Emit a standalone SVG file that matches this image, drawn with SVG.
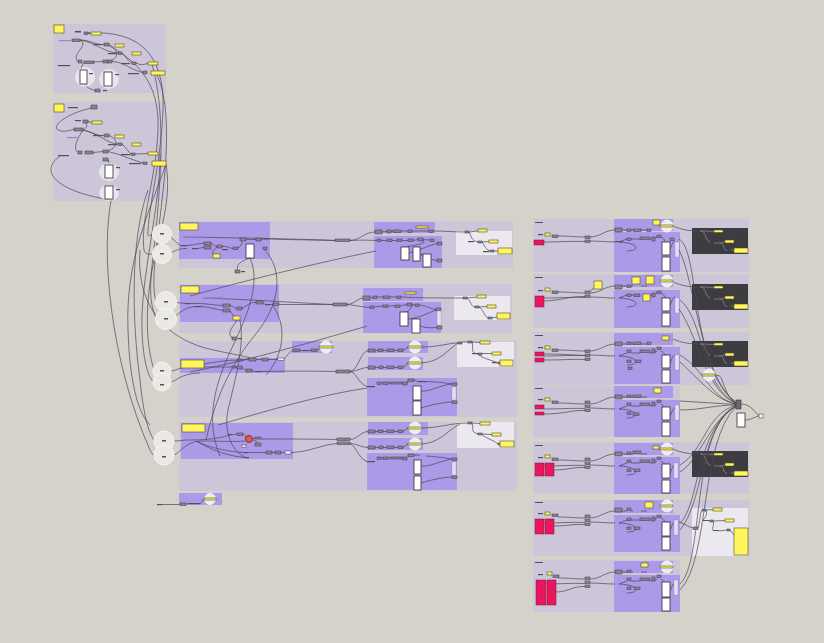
<svg xmlns="http://www.w3.org/2000/svg" width="824" height="643" viewBox="0 0 824 643">
<defs>
<style>
.og{fill:#cdc6d9}
.pg{fill:#ac99e7}
.wg{fill:#ebe8ef}
.dg{fill:#3d3c41}
.n{fill:#8a8395;stroke:#3a3540;stroke-width:.5}
.nw{fill:#f4f2f6;stroke:#3a3540;stroke-width:.5}
.l{fill:#544e60}
.lp{fill:#9484d2}
.y{fill:#fff55c;stroke:#514e2c;stroke-width:.6}
.w{fill:#fff;stroke:#2e2b33;stroke-width:.8}
.pk{fill:#e9175e;stroke:#7a1a3d;stroke-width:.5}
.c{fill:#ebe9e4;stroke:#f6f5f2;stroke-width:1}
.cw{fill:#efecf2;stroke:#f8f7fa;stroke-width:.8}
.st{fill:#e3def2;stroke:#8a8395;stroke-width:.3}
.gl{fill:#fff;opacity:.55}
.wr{fill:none;stroke:#4b4655;stroke-width:.7}
.wl{fill:none;stroke:#a5a2aa;stroke-width:.6}
.red{fill:#e0584e;stroke:#9a2a25;stroke-width:1}
</style>
<g id="rwires">
<path class="wr" d="M544,23 C560,23 570,22 585,22.5 M558,17 C570,17 575,18 585,18 M590,18 C600,18 605,11 615,11 M590,22 C600,22 605,23 615,23 M622,11 L627,11 M631,11 L633,11 M641,11 L647,11 M619,23 L627,20 M631,20 L640,20 M650,20 L652,20 M655,19 L657,18 M661,18 C668,22 664,26 666,30 M670,30 C672,26 673,22 675,22 M619,23 C640,24 640,32 627,32"/>
</g>
</defs>
<rect x="0" y="0" width="824" height="643" fill="#d5d2cc"/>

<g id="groups">
<rect class="og" x="53" y="24" width="113" height="69"/>
<rect class="og" x="53" y="102" width="113" height="99"/>
<rect class="og" x="179" y="221" width="334" height="47"/>
<rect class="pg" x="179" y="222" width="91" height="37"/>
<rect class="pg" x="374" y="222" width="61" height="11"/>
<rect class="pg" x="374" y="236" width="68" height="32"/>
<rect class="wg" x="456" y="231" width="56" height="24"/>
<rect class="og" x="179" y="284" width="333" height="49"/>
<rect class="pg" x="180" y="285" width="99" height="37"/>
<rect class="pg" x="363" y="288" width="60" height="13"/>
<rect class="pg" x="363" y="302" width="78" height="31"/>
<rect class="wg" x="454" y="296" width="56" height="24"/>
<rect class="og" x="179" y="341" width="338" height="76"/>
<rect class="pg" x="180" y="358" width="105" height="15"/>
<rect class="pg" x="292" y="341" width="40" height="12"/>
<rect class="pg" x="368" y="341" width="60" height="12"/>
<rect class="pg" x="368" y="357" width="55" height="13"/>
<rect class="pg" x="367" y="378" width="90" height="38"/>
<rect class="wg" x="457" y="342" width="57" height="25"/>
<rect class="og" x="179" y="422" width="338" height="69"/>
<rect class="pg" x="181" y="423" width="112" height="36"/>
<rect class="pg" x="368" y="422" width="60" height="13"/>
<rect class="pg" x="368" y="438" width="55" height="12"/>
<rect class="pg" x="367" y="453" width="90" height="37"/>
<rect class="wg" x="457" y="422" width="57" height="26"/>
<rect class="pg" x="179" y="493" width="43" height="12"/>
<rect class="og" x="533" y="219" width="216" height="53"/>
<rect class="pg" x="614" y="219" width="59" height="12"/>
<rect class="pg" x="614" y="232" width="66" height="40"/>
<rect class="dg" x="692" y="228" width="56" height="26"/>
<rect class="og" x="533" y="274" width="216" height="54"/>
<rect class="pg" x="614" y="275" width="59" height="12"/>
<rect class="pg" x="614" y="290" width="66" height="38"/>
<rect class="dg" x="692" y="284" width="56" height="26"/>
<rect class="og" x="533" y="332" width="216" height="53"/>
<rect class="pg" x="614" y="333" width="59" height="12"/>
<rect class="pg" x="614" y="347" width="66" height="37"/>
<rect class="dg" x="692" y="341" width="56" height="26"/>
<rect class="og" x="533" y="386" width="147" height="51"/>
<rect class="pg" x="614" y="386" width="59" height="12"/>
<rect class="pg" x="614" y="400" width="66" height="37"/>
<rect class="og" x="533" y="442" width="216" height="52"/>
<rect class="pg" x="614" y="443" width="59" height="12"/>
<rect class="pg" x="614" y="457" width="66" height="37"/>
<rect class="dg" x="692" y="451" width="56" height="26"/>
<rect class="og" x="533" y="500" width="216" height="56"/>
<rect class="pg" x="614" y="500" width="59" height="13"/>
<rect class="pg" x="614" y="515" width="66" height="37"/>
<rect class="wg" x="692" y="508" width="56" height="48"/>
<rect class="og" x="533" y="560" width="147" height="52"/>
<rect class="pg" x="614" y="561" width="59" height="12"/>
<rect class="pg" x="614" y="575" width="66" height="37"/>
</g>

<g id="connectors">
<path class="wr" d="M80,40 C90,40 95,45 104,44.5 M80,40 C95,42 105,53 118,53 M80,40 C90,45 70,55 78,61.5 M88,33 L91,33.5 M109,44.5 C120,50 120,62 103,61.5 M122,53 C126,56 128,62 132,63 M94,62 L103,61.5 M112,61.5 C125,62 130,70 143,72.5 M84,62 C78,72 78,86 95,90.5 M136,63 C142,66 144,64 148,63.5 M119,45.5 L115,45.5"/>
<path class="wr" d="M97,107 C75,110 50,124 58,130 C64,133 70,130 74,129.5 M83,130 C88,128 88,123 83,121.5 M88,121.5 L92,122.5 M83,130 C92,132 96,136 104,135.5 M83,130 C100,134 108,144 118,144 M83,130 C78,138 72,148 78,152.5 M109,135.5 C120,140 118,150 103,151.5 M122,144 C126,147 128,152 131,154 M93,152.5 L103,151.5 M108,151.5 C120,154 132,160 143,163 M135,154 L148,153.5 M108,159.5 C110,163 108,170 109,172"/>
<path class="wr" d="M88,33 C140,30 165,55 163,110 C161,160 150,200 148,230 C147,240 150,234 154,234"/>
<path class="wr" d="M106,44 C135,60 160,80 158,130 C156,180 140,220 144,250 C146,256 150,254 153,254"/>
<path class="wr" d="M156,73 C170,100 168,150 162,200 C158,240 150,280 156,302"/>
<path class="wr" d="M152,64 C165,110 162,170 155,240 C150,280 148,300 156,318"/>
<path class="wr" d="M166,164 C172,200 160,230 152,270 C145,310 146,345 154,370"/>
<path class="wr" d="M160,154 C160,210 140,280 142,330 C143,360 148,378 154,382"/>
<path class="wr" d="M148,190 C130,240 132,320 140,380 C144,420 150,436 155,441"/>
<path class="wr" d="M112,196 C100,250 110,360 150,450 C152,455 154,455 155,455"/>
<path class="wr" d="M60,156 C40,170 52,190 110,200"/>
<path class="wr" d="M140,250 C136,300 160,335 205,348 C230,354 245,356 250,358"/>
<path class="wr" d="M166,164 C150,210 125,260 128,330 C130,390 140,415 150,425"/>
<path class="wr" d="M166,234 C172,236 176,244 181,245.5 M166,254 C175,252 178,248 187,248.5 M187,245.5 C195,245 198,243 204,243.5 M198,248.5 C200,248 201,247.5 204,247.5 M211,243.5 C214,244 214,246 217,246.5 M222,246.5 C228,246 228,248 233,248.5 M217,247 C212,250 212,253 214,255 M238,248 C243,245 243,240 240,239.5 M183,237 C250,238 300,239 335,240.5 M246,239.5 L256,239.5 M261,239.5 L263,239 M269,239 C300,240 320,240 335,240.5 M350,240.5 C360,240 365,232 375,232 M350,240.5 C360,240 365,240 377,240.5 M382,232 L387,231.5 M391,231.5 L393,231 M401,231 L408,231 M412,231 L429,231 M433,231 C445,231 455,232 465,232 M381,240.5 L387,240.5 M392,240.5 L397,240.5 M402,240.5 L408,240.5 M413,240.5 L418,239.5 M423,239.5 L430,240 M423,239.5 C428,246 410,244 405,248 M409,253 C420,250 430,245 437,243.5 M421,254 C428,256 430,260 437,260.5 M417,250 C420,255 425,258 427,258 M469,232 C472,236 470,240 478,242 M482,242 C485,246 486,250 490,251 M469,232 L478,231 M482,242 L489,241.5 M494,251 L498,251"/>
<path class="wr" d="M263,248 C285,270 280,305 255,335 C230,365 215,400 206,440 M250,258 C262,285 245,320 230,352 C215,385 205,420 220,456 M238,272 C236,266 238,262 250,258"/>
<path class="wr" d="M190,296 C240,282 320,262 376,251"/>
<path class="wr" d="M170,302 C175,302 180,303 185,303.5 M170,319 C178,317 180,308 195,306.5 M191,303.5 C205,303 212,305 223,305.5 M201,306.5 C210,307 214,309 223,310.5 M230,305.5 C233,306 234,308 237,308.5 M230,310.5 C232,314 233,316 235,316 M242,308.5 C248,305 250,302 256,302.5 M203,298 C260,300 300,303 333,304.5 M263,302.5 L265,304.5 M270,304.5 L273,304.5 M279,304.5 C300,304.5 315,304.5 333,304.5 M347,304.5 C355,304 358,298 363,298 M347,304.5 C355,305 360,307 370,307.5 M370,298 L373,297 M377,297 L383,297 M390,297 L397,297 M401,297 C420,298 440,298 463,298 M374,307 L383,306 M388,306 L395,306 M400,306 L407,304.5 M412,304.5 L415,305 M419,305 C428,306 430,309 436,309.5 M412,305 C410,312 406,312 404,313 M408,319 C420,318 430,312 436,310 M420,326 C425,328 430,328 437,327.5 M467,298 C472,302 470,306 475,307 M479,307 C484,310 484,316 488,318 M467,298 L477,297 M479,307 L487,306.5 M492,318 L497,317 M237,320 C234,326 226,332 232,338"/>
<path class="wr" d="M240,320 C245,345 235,380 228,410 C224,430 230,450 245,457 M273,306 C290,330 280,360 266,375 M190,372 C250,360 320,340 367,326"/>
<path class="wr" d="M171,371 C176,371 178,368 182,368 M171,382 C178,380 180,374 200,373 M204,364 C215,362 228,360 238,360 M242,360 L249,359.5 M256,359.5 L262,359.5 M268,359.5 L278,359.5 M204,367 C215,367 225,367 232,367 M236,367 L237,367.5 M242,367.5 C244,369 245,370 246,370.5 M252,370.5 L255,371.5 M284,359 C288,355 290,351 293,350.5 M300,350.5 L303,350.5 M309,350.5 L311,350.5 M317,350.5 L320,348 M261,371.5 C290,371 315,371 336,371.5 M350,371.5 C358,371 360,352 368,350.5 M350,371.5 C358,371 360,368 368,367.5 M350,371.5 C356,372 358,383 367,386.5 M375,350.5 L378,350.5 M383,350.5 L387,350.5 M394,350.5 L398,350.5 M403,350.5 L408,347 M375,367.5 L379,367.5 M383,367.5 L387,367.5 M394,367.5 L398,367.5 M403,367.5 L408,363 M421,347 C440,347 448,343 458,343 M421,363 C440,362 445,352 458,343 M381,383 L383,383 M388,383 L390,383 M402,383 L403,383.5 M407,383.5 C408,381 408,380 408,380 M414,380 L418,381.5 M426,381.5 C440,382 445,383 452,384 M421,391 C430,392 440,385 452,384 M421,408 C430,405 445,402 452,402 M462,342 L468,342 M472,342 L480,342.5 M472,342 C474,348 470,352 476,353.5 M482,353.5 L492,353.5 M478,353.5 C480,358 492,360 498,363 M502,363 L500,362"/>
<path class="wr" d="M218,425 C270,410 320,395 367,388"/>
<path class="wr" d="M174,441 C180,441 183,440 188,440 M174,455 C180,453 185,442 200,441 M188,440 C210,440 220,438 230,435 M232,435 L237,434 M243,434 C247,436 246,438 246,439 M252,439 L255,438 M200,441 C215,441 235,442 245,441 M253,440 C258,441 258,443 255,444.5 M246,446 C243,446 243,446 242,446 M196,441 C210,448 230,452 244,452.5 M198,442 C215,452 230,456 245,457.5 M248,452.5 L266,452.5 M272,452.5 L275,452.5 M281,452.5 L285,452.5 M291,452.5 C310,452 320,445 337,443.5 M261,439 C290,439 315,439 337,439.5 M350,439.5 C358,439 360,432 368,431.5 M350,443.5 C358,444 360,447 368,447.5 M350,443.5 C356,446 358,458 367,461.5 M375,431.5 L378,431.5 M383,431.5 L387,431.5 M394,431.5 L398,431.5 M403,431.5 L408,428 M375,447.5 L379,447.5 M383,447.5 L387,447.5 M394,447.5 L398,447.5 M403,447.5 L408,444 M421,428 C440,428 450,423 468,423 M421,444 C440,443 445,432 460,424 M381,458 L383,458 M388,458 L390,458 M402,458 L403,458.5 M414,455 L420,455 M426,456 C440,457 445,458 452,459 M421,466 C430,467 440,461 452,459 M421,483 C430,480 445,477 452,477 M472,423 L480,423.5 M472,423 C474,428 470,432 478,434 M482,434 L492,434.5 M482,434 C484,438 494,440 498,444"/>
<path class="wr" d="M162,504.5 L180,504.5 M186,504 L188,504 M200,504 L204,499"/>
<use href="#rwires" transform="translate(0,219)"/>
<use href="#rwires" transform="translate(0,275)"/>
<use href="#rwires" transform="translate(0,333)"/>
<use href="#rwires" transform="translate(0,386)"/>
<use href="#rwires" transform="translate(0,443)"/>
<use href="#rwires" transform="translate(0,500)"/>
<use href="#rwires" transform="translate(0,561)"/>
<path class="wr" d="M544,301 C565,300 570,296 585,296.5 M544,354 C565,354 570,355 585,355.5 M544,360 C565,360 570,359 585,359.5 M544,414 C565,414 570,410 585,410.5 M554,470 C568,470 572,467 585,467.5 M554,526 C568,526 572,524 585,524.5 M556,592 C568,592 572,586 585,586.5 M590,291 C595,288 596,286 598,285"/>
<path class="wr" d="M673,226 C682,230 690,231 700,231 M673,282 C682,286 690,287 700,287 M673,339 C682,343 690,344 700,344 M673,449 C682,453 690,454 700,454 M679,522 C685,524 688,527 693,528 M698,528 C700,522 700,512 702,510"/>
<path class="wl" d="M703,231 C706,236 706,240 710,242.5 M714,243 L719,243 M722,243 C724,247 724,250 727,250.5 M703,231 L714,231.5 M722,243 L725,241.5 M731,250 L734,250"/>
<path class="wl" d="M703,287 C706,292 706,296 710,298.5 M714,299 L719,299 M722,299 C724,303 724,306 727,306.5 M703,287 L714,287.5 M722,299 L725,297.5 M731,306 L734,306"/>
<path class="wl" d="M703,344 C706,349 706,353 710,355.5 M714,356 L719,356 M722,356 C724,360 724,363 727,363.5 M703,344 L714,344.5 M722,356 L725,354.5 M731,363 L734,363"/>
<path class="wl" d="M703,454 C706,459 706,463 710,465.5 M714,466 L719,466 M722,466 C724,470 724,473 727,473.5 M703,454 L714,454.5 M722,466 L725,464.5 M731,473 L734,473"/>
<path class="wr" d="M706,510 L713,509.5 M706,510 C708,516 704,518 703,520.5 M709,521 L710,521 M713,521 L725,520.5 M713,521 C715,526 711,528 713,530.5 M719,531 L727,530 M730,530 L734,535"/>
<path class="wr" d="M679,239 C700,250 690,370 736,402 M679,250 C695,280 700,375 736,403 M680,300 C705,320 700,385 736,403 M679,309 C700,340 705,390 736,403.5 M680,355 C705,370 710,398 736,404 M680,362 C700,380 715,400 736,404 M680,401 L736,404.5 M680,410 C700,410 715,405 736,405 M680,465 C705,450 705,415 736,405 M680,472 C700,460 710,420 736,405.5 M680,523 C700,505 695,430 736,406 M680,530 C705,500 700,425 736,406 M680,584 C705,560 690,430 736,406.5 M680,590 C710,560 700,440 736,407 M715,376 C725,372 720,390 736,404"/>
<path class="wr" d="M741,404 C752,404 755,414 760,416 M745,420 C752,420 755,416 760,416"/>
</g>

<g id="node-top1">
<rect class="y" x="54" y="25" width="10" height="8"/>
<rect class="l" x="75" y="31" width="6" height="1.5"/>
<rect class="n" x="84" y="32" width="4" height="2.5"/>
<rect class="y" x="91" y="32" width="10" height="3"/>
<rect class="lp" x="59" y="40" width="12" height="1.2"/>
<rect class="n" x="72" y="39" width="8" height="2.5"/>
<rect class="l" x="93" y="44" width="9" height="1.2"/>
<rect class="n" x="104" y="43" width="5" height="3"/>
<rect class="y" x="115" y="44" width="9" height="3"/>
<rect class="l" x="108" y="53" width="9" height="1.2"/>
<rect class="n" x="118" y="52" width="4" height="2.5"/>
<rect class="y" x="132" y="52" width="9" height="3"/>
<rect class="l" x="58" y="65" width="12" height="1.2"/>
<rect class="n" x="78" y="60" width="4" height="3"/>
<rect class="n" x="84" y="61" width="10" height="2.5"/>
<rect class="n" x="103" y="60" width="5" height="3"/>
<rect class="n" x="108" y="60" width="4" height="3"/>
<rect class="l" x="121" y="63" width="9" height="1.2"/>
<rect class="n" x="132" y="62" width="4" height="2.5"/>
<rect class="y" x="148" y="62" width="10" height="3"/>
<ellipse class="gl" cx="85" cy="77" rx="10" ry="10"/>
<ellipse class="gl" cx="109" cy="79" rx="10" ry="10"/>
<rect class="w" x="80" y="70" width="7" height="14"/>
<rect class="l" x="89" y="73" width="4" height="1.2"/>
<rect class="w" x="104" y="72" width="8" height="14"/>
<rect class="l" x="115" y="74" width="4" height="1.2"/>
<rect class="l" x="128" y="73" width="11" height="1.2"/>
<rect class="n" x="143" y="71" width="4" height="3"/>
<rect class="y" x="151" y="71" width="14" height="4"/>
<rect class="n" x="95" y="89" width="5" height="3"/>
<rect class="l" x="103" y="90" width="4" height="1.2"/>
</g>

<g id="node-top2">
<rect class="y" x="54" y="104" width="10" height="8"/>
<rect class="l" x="68" y="107" width="10" height="1.2"/>
<rect class="n" x="91" y="105" width="6" height="4"/>
<rect class="l" x="75" y="120" width="6" height="1.2"/>
<rect class="n" x="83" y="120" width="5" height="3"/>
<rect class="y" x="92" y="121" width="10" height="3"/>
<rect class="n" x="74" y="128" width="9" height="3"/>
<rect class="lp" x="67" y="137" width="12" height="1.2"/>
<rect class="l" x="93" y="135" width="9" height="1.2"/>
<rect class="n" x="104" y="134" width="5" height="3"/>
<rect class="y" x="115" y="135" width="9" height="3"/>
<rect class="l" x="108" y="144" width="9" height="1.2"/>
<rect class="n" x="118" y="143" width="4" height="2.5"/>
<rect class="y" x="132" y="143" width="9" height="3"/>
<rect class="l" x="58" y="155" width="11" height="1.2"/>
<rect class="n" x="78" y="151" width="4" height="3"/>
<rect class="n" x="85" y="151" width="8" height="3"/>
<rect class="n" x="103" y="150" width="5" height="3"/>
<rect class="n" x="103" y="158" width="5" height="3"/>
<rect class="l" x="121" y="154" width="9" height="1.2"/>
<rect class="n" x="131" y="153" width="4" height="2.5"/>
<rect class="y" x="148" y="152" width="10" height="3"/>
<rect class="l" x="129" y="163" width="12" height="1.2"/>
<rect class="n" x="143" y="162" width="4" height="2.5"/>
<rect class="y" x="152" y="161" width="14" height="5"/>
<ellipse class="gl" cx="109" cy="172" rx="10" ry="9"/>
<ellipse class="gl" cx="109" cy="193" rx="10" ry="8"/>
<rect class="w" x="105" y="165" width="8" height="13"/>
<rect class="l" x="116" y="167" width="4" height="1.2"/>
<rect class="w" x="105" y="186" width="8" height="13"/>
<rect class="l" x="116" y="189" width="4" height="1.2"/>
</g>

<g id="node-rowA">
<circle class="c" cx="162" cy="234" r="9.5"/>
<circle class="c" cx="162" cy="254" r="9.5"/>
<rect class="l" x="160" y="233" width="4" height="1.5"/>
<rect class="l" x="160" y="253" width="4" height="1.5"/>
<rect class="y" x="180" y="223" width="18" height="7"/>
<rect class="lp" x="183" y="236" width="21" height="1.5"/>
<rect class="l" x="181" y="245" width="6" height="1.2"/>
<rect class="l" x="192" y="248" width="6" height="1.2"/>
<rect class="n" x="204" y="242" width="7" height="3"/>
<rect class="n" x="204" y="246" width="7" height="3"/>
<rect class="n" x="217" y="245" width="5" height="3"/>
<rect class="l" x="222" y="249" width="6" height="1.2"/>
<rect class="y" x="213" y="254" width="7" height="4"/>
<rect class="n" x="240" y="238" width="6" height="3"/>
<rect class="n" x="256" y="238" width="5" height="3"/>
<rect class="l" x="263" y="238" width="6" height="1.5"/>
<rect class="n" x="233" y="247" width="5" height="2.5"/>
<rect class="w" x="246" y="244" width="8" height="14"/>
<rect class="n" x="263" y="247" width="4" height="2.5"/>
<rect class="n" x="235" y="270" width="5" height="3"/>
<rect class="l" x="241" y="271" width="4" height="1.2"/>
<rect class="n" x="335" y="239" width="15" height="2.5"/>
<rect class="n" x="375" y="230" width="7" height="4"/>
<rect class="n" x="387" y="230" width="4" height="3"/>
<rect class="n" x="393" y="230" width="8" height="2.5"/>
<rect class="n" x="408" y="230" width="4" height="2.5"/>
<rect class="y" x="416" y="226" width="12" height="2"/>
<rect class="n" x="429" y="230" width="4" height="2.5"/>
<rect class="n" x="377" y="239" width="4" height="2.5"/>
<rect class="n" x="387" y="239" width="5" height="2.5"/>
<rect class="n" x="397" y="239" width="5" height="2.5"/>
<rect class="n" x="408" y="239" width="5" height="2.5"/>
<rect class="n" x="418" y="238" width="5" height="3"/>
<rect class="n" x="430" y="239" width="4" height="2.5"/>
<rect class="w" x="401" y="247" width="8" height="13"/>
<rect class="w" x="413" y="247" width="7" height="14"/>
<rect class="w" x="423" y="254" width="8" height="13"/>
<rect class="n" x="437" y="242" width="5" height="3"/>
<rect class="n" x="437" y="259" width="5" height="3"/>
<rect class="n" x="465" y="231" width="4" height="2"/>
<rect class="y" x="478" y="229" width="9" height="3"/>
<rect class="l" x="468" y="241" width="6" height="1.2"/>
<rect class="n" x="478" y="241" width="4" height="2"/>
<rect class="y" x="489" y="240" width="9" height="3"/>
<rect class="l" x="483" y="251" width="6" height="1.2"/>
<rect class="n" x="490" y="250" width="4" height="2"/>
<rect class="y" x="498" y="248" width="14" height="6"/>
</g>

<g id="node-rowB">
<circle class="c" cx="166" cy="302" r="10.5"/>
<circle class="c" cx="166" cy="319" r="10.5"/>
<rect class="l" x="164" y="301" width="4" height="1.5"/>
<rect class="l" x="164" y="318" width="4" height="1.5"/>
<rect class="y" x="181" y="286" width="18" height="7"/>
<rect class="lp" x="203" y="297" width="20" height="1.5"/>
<rect class="l" x="185" y="303" width="6" height="1.2"/>
<rect class="l" x="195" y="306" width="6" height="1.2"/>
<rect class="n" x="223" y="304" width="7" height="3"/>
<rect class="n" x="223" y="309" width="7" height="3"/>
<rect class="n" x="237" y="307" width="5" height="3"/>
<rect class="y" x="233" y="316" width="7" height="4"/>
<rect class="n" x="256" y="301" width="7" height="3"/>
<rect class="l" x="265" y="304" width="5" height="1.2"/>
<rect class="n" x="273" y="303" width="6" height="2.5"/>
<rect class="n" x="232" y="337" width="5" height="3"/>
<rect class="l" x="238" y="338" width="4" height="1.2"/>
<rect class="n" x="333" y="303" width="14" height="3"/>
<rect class="n" x="363" y="296" width="7" height="4"/>
<rect class="n" x="373" y="296" width="4" height="2.5"/>
<rect class="n" x="383" y="296" width="7" height="2.5"/>
<rect class="n" x="397" y="296" width="4" height="2.5"/>
<rect class="y" x="405" y="292" width="11" height="2"/>
<rect class="n" x="370" y="306" width="4" height="2.5"/>
<rect class="n" x="383" y="305" width="5" height="2.5"/>
<rect class="n" x="395" y="305" width="5" height="2.5"/>
<rect class="n" x="407" y="303" width="5" height="3"/>
<rect class="n" x="415" y="304" width="4" height="2.5"/>
<rect class="n" x="436" y="308" width="5" height="3"/>
<rect class="w" x="400" y="312" width="8" height="14"/>
<rect class="w" x="412" y="319" width="8" height="14"/>
<rect class="st" x="437" y="311" width="4" height="14"/>
<rect class="n" x="437" y="326" width="5" height="3"/>
<rect class="n" x="463" y="297" width="4" height="2"/>
<rect class="y" x="477" y="295" width="9" height="3"/>
<rect class="n" x="475" y="306" width="4" height="2"/>
<rect class="y" x="487" y="305" width="9" height="3"/>
<rect class="n" x="488" y="317" width="4" height="2"/>
<rect class="y" x="497" y="313" width="13" height="6"/>
</g>

<g id="node-rowC">
<circle class="c" cx="162" cy="371" r="9"/>
<circle class="c" cx="162" cy="382" r="9"/>
<rect class="l" x="160" y="370" width="4" height="1.5"/>
<rect class="l" x="160" y="384" width="4" height="1.5"/>
<rect class="y" x="181" y="360" width="23" height="8"/>
<rect class="n" x="238" y="359" width="4" height="2"/>
<rect class="n" x="249" y="358" width="7" height="3"/>
<rect class="n" x="262" y="358" width="6" height="3"/>
<rect class="nw" x="278" y="358" width="6" height="2.5"/>
<rect class="n" x="232" y="366" width="4" height="2"/>
<rect class="n" x="237" y="366" width="5" height="3"/>
<rect class="n" x="246" y="369" width="6" height="3"/>
<rect class="l" x="255" y="371" width="6" height="1.2"/>
<rect class="n" x="293" y="349" width="7" height="2.5"/>
<rect class="l" x="303" y="350" width="6" height="1.2"/>
<rect class="n" x="311" y="349" width="6" height="2.5"/>
<circle class="cw" cx="326" cy="347" r="6"/>
<rect class="y" x="319" y="346" width="14" height="2"/>
<rect class="n" x="336" y="370" width="14" height="3"/>
<circle class="cw" cx="415" cy="347" r="6"/>
<rect class="y" x="408" y="346" width="14" height="2"/>
<rect class="n" x="368" y="349" width="7" height="3"/>
<rect class="n" x="378" y="349" width="5" height="2.5"/>
<rect class="n" x="387" y="349" width="7" height="2.5"/>
<rect class="n" x="398" y="349" width="5" height="2.5"/>
<circle class="cw" cx="415" cy="363" r="6"/>
<rect class="y" x="408" y="362" width="14" height="2"/>
<rect class="n" x="368" y="366" width="7" height="3"/>
<rect class="n" x="379" y="366" width="4" height="2.5"/>
<rect class="n" x="387" y="366" width="7" height="2.5"/>
<rect class="n" x="398" y="366" width="5" height="2.5"/>
<rect class="l" x="367" y="386" width="8" height="1.2"/>
<rect class="n" x="377" y="382" width="4" height="2.5"/>
<rect class="n" x="383" y="382" width="5" height="2.5"/>
<rect class="n" x="390" y="382" width="12" height="2"/>
<rect class="n" x="403" y="382" width="4" height="3"/>
<rect class="n" x="408" y="379" width="6" height="2.5"/>
<rect class="l" x="418" y="381" width="8" height="1.2"/>
<rect class="w" x="413" y="386" width="8" height="14"/>
<rect class="w" x="413" y="401" width="8" height="14"/>
<rect class="n" x="452" y="383" width="5" height="2.5"/>
<rect class="st" x="452" y="387" width="4" height="13"/>
<rect class="n" x="452" y="401" width="5" height="2.5"/>
<rect class="n" x="458" y="342" width="4" height="2"/>
<rect class="n" x="468" y="341" width="4" height="2"/>
<rect class="y" x="480" y="341" width="10" height="3"/>
<rect class="l" x="472" y="353" width="6" height="1.2"/>
<rect class="n" x="478" y="353" width="4" height="2"/>
<rect class="y" x="492" y="352" width="9" height="3"/>
<rect class="l" x="492" y="362" width="5" height="1.2"/>
<rect class="n" x="498" y="362" width="4" height="2"/>
<rect class="y" x="500" y="360" width="13" height="6"/>
</g>

<g id="node-rowD">
<circle class="c" cx="164" cy="441" r="10"/>
<circle class="c" cx="164" cy="455" r="10"/>
<rect class="l" x="162" y="440" width="4" height="1.5"/>
<rect class="l" x="162" y="456" width="4" height="1.5"/>
<rect class="y" x="182" y="424" width="23" height="8"/>
<rect class="l" x="228" y="434" width="4" height="1.2"/>
<rect class="n" x="237" y="433" width="6" height="2.5"/>
<circle class="red" cx="249" cy="439" r="3.5"/>
<rect class="n" x="255" y="437" width="6" height="2"/>
<rect class="n" x="255" y="443" width="6" height="3"/>
<rect class="nw" x="242" y="445" width="4" height="2.5"/>
<rect class="l" x="244" y="452" width="4" height="1.2"/>
<rect class="l" x="245" y="457" width="4" height="1.2"/>
<rect class="n" x="266" y="451" width="6" height="3"/>
<rect class="n" x="275" y="451" width="6" height="3"/>
<rect class="nw" x="285" y="451" width="6" height="3"/>
<rect class="n" x="337" y="438" width="13" height="2.5"/>
<rect class="n" x="337" y="442" width="13" height="2.5"/>
<circle class="cw" cx="415" cy="428" r="6"/>
<rect class="y" x="408" y="427" width="14" height="2"/>
<rect class="n" x="368" y="430" width="7" height="3"/>
<rect class="n" x="378" y="430" width="5" height="2.5"/>
<rect class="n" x="387" y="430" width="7" height="2.5"/>
<rect class="n" x="398" y="430" width="5" height="2.5"/>
<circle class="cw" cx="415" cy="444" r="6"/>
<rect class="y" x="408" y="443" width="14" height="2"/>
<rect class="n" x="368" y="446" width="7" height="3"/>
<rect class="n" x="379" y="446" width="4" height="2.5"/>
<rect class="n" x="387" y="446" width="7" height="2.5"/>
<rect class="n" x="398" y="446" width="5" height="2.5"/>
<rect class="l" x="367" y="461" width="8" height="1.2"/>
<rect class="n" x="377" y="457" width="4" height="2.5"/>
<rect class="n" x="383" y="457" width="5" height="2.5"/>
<rect class="n" x="390" y="457" width="12" height="2"/>
<rect class="n" x="403" y="457" width="4" height="3"/>
<rect class="n" x="408" y="454" width="6" height="2.5"/>
<rect class="w" x="414" y="460" width="7" height="14"/>
<rect class="w" x="414" y="476" width="7" height="14"/>
<rect class="n" x="452" y="458" width="5" height="2.5"/>
<rect class="st" x="452" y="462" width="4" height="13"/>
<rect class="n" x="452" y="476" width="5" height="2.5"/>
<rect class="n" x="468" y="422" width="4" height="2"/>
<rect class="y" x="480" y="422" width="10" height="3"/>
<rect class="n" x="478" y="433" width="4" height="2"/>
<rect class="y" x="492" y="433" width="9" height="3"/>
<rect class="n" x="498" y="443" width="4" height="2"/>
<rect class="y" x="500" y="441" width="14" height="6"/>
</g>

<g id="node-small">
<rect class="l" x="157" y="504" width="5" height="1.2"/>
<rect class="n" x="180" y="503" width="6" height="2.5"/>
<rect class="l" x="188" y="503" width="12" height="1.2"/>
<circle class="cw" cx="210" cy="499" r="5.5"/>
<rect class="y" x="204" y="498" width="12" height="2"/>
</g>

<g id="node-R1">
<rect class="l" x="535" y="222" width="8" height="1"/>
<rect class="pk" x="534" y="240" width="10" height="5"/>
<rect class="l" x="538" y="234" width="5" height="1.2"/>
<rect class="y" x="545" y="233" width="5" height="3"/>
<rect class="n" x="552" y="235" width="6" height="2.5"/>
<rect class="n" x="585" y="236" width="5" height="2.5"/>
<rect class="n" x="585" y="240" width="5" height="2.5"/>
<rect class="y" x="653" y="220" width="7" height="5"/>
<circle class="cw" cx="667" cy="226" r="6"/>
<rect class="y" x="660" y="225" width="13" height="2"/>
<rect class="n" x="615" y="228" width="7" height="4"/>
<rect class="n" x="627" y="229" width="4" height="2.5"/>
<rect class="n" x="633" y="229" width="8" height="2.5"/>
<rect class="n" x="647" y="229" width="4" height="2.5"/>
<rect class="l" x="615" y="241" width="8" height="1.2"/>
<rect class="n" x="627" y="238" width="4" height="2.5"/>
<rect class="n" x="640" y="237" width="10" height="2.5"/>
<rect class="n" x="652" y="237" width="3" height="4"/>
<rect class="n" x="657" y="235" width="4" height="2.5"/>
<rect class="n" x="670" y="238" width="4" height="2.5"/>
<rect class="w" x="662" y="242" width="8" height="13"/>
<rect class="w" x="662" y="257" width="8" height="14"/>
<rect class="st" x="675" y="242" width="4" height="15"/>
<rect class="n" x="700" y="230" width="3" height="2"/>
<rect class="y" x="714" y="230" width="9" height="2.5"/>
<rect class="n" x="719" y="242" width="3" height="2"/>
<rect class="y" x="725" y="240" width="9" height="3"/>
<rect class="y" x="734" y="248" width="14" height="5"/>
</g>

<g id="node-R2">
<rect class="l" x="535" y="277" width="8" height="1"/>
<rect class="pk" x="535" y="296" width="9" height="11"/>
<rect class="l" x="538" y="290" width="5" height="1.2"/>
<rect class="y" x="545" y="288" width="5" height="3"/>
<rect class="n" x="552" y="291" width="6" height="2.5"/>
<rect class="n" x="585" y="291" width="5" height="2.5"/>
<rect class="n" x="585" y="295" width="5" height="2.5"/>
<rect class="y" x="594" y="281" width="8" height="8"/>
<rect class="y" x="632" y="277" width="8" height="7"/>
<rect class="y" x="646" y="276" width="8" height="8"/>
<circle class="cw" cx="667" cy="281" r="6"/>
<rect class="y" x="660" y="280" width="13" height="2"/>
<rect class="n" x="615" y="285" width="7" height="4"/>
<rect class="n" x="627" y="285" width="4" height="2.5"/>
<rect class="y" x="643" y="294" width="7" height="7"/>
<rect class="n" x="627" y="294" width="4" height="2.5"/>
<rect class="n" x="634" y="294" width="6" height="2.5"/>
<rect class="n" x="652" y="293" width="3" height="4"/>
<rect class="n" x="657" y="291" width="4" height="2.5"/>
<rect class="w" x="662" y="298" width="8" height="13"/>
<rect class="w" x="662" y="313" width="8" height="13"/>
<rect class="st" x="675" y="298" width="4" height="15"/>
<rect class="n" x="700" y="286" width="3" height="2"/>
<rect class="y" x="714" y="286" width="9" height="2.5"/>
<rect class="n" x="719" y="298" width="3" height="2"/>
<rect class="y" x="725" y="296" width="9" height="3"/>
<rect class="y" x="734" y="304" width="14" height="5"/>
</g>

<g id="node-R3">
<rect class="l" x="535" y="335" width="8" height="1"/>
<rect class="pk" x="535" y="352" width="9" height="4"/>
<rect class="pk" x="535" y="358" width="9" height="4"/>
<rect class="l" x="538" y="347" width="5" height="1.2"/>
<rect class="y" x="545" y="346" width="5" height="3"/>
<rect class="n" x="552" y="349" width="6" height="2.5"/>
<rect class="n" x="585" y="350" width="5" height="2.5"/>
<rect class="n" x="585" y="354" width="5" height="2.5"/>
<rect class="n" x="585" y="358" width="5" height="2.5"/>
<rect class="y" x="662" y="336" width="7" height="4"/>
<rect class="n" x="615" y="342" width="7" height="4"/>
<rect class="n" x="627" y="342" width="4" height="2.5"/>
<rect class="n" x="633" y="342" width="8" height="2.5"/>
<rect class="n" x="647" y="342" width="4" height="2.5"/>
<rect class="n" x="627" y="350" width="4" height="2.5"/>
<rect class="n" x="640" y="350" width="10" height="2.5"/>
<rect class="n" x="652" y="349" width="3" height="4"/>
<rect class="n" x="657" y="347" width="4" height="2.5"/>
<rect class="n" x="627" y="360" width="4" height="2.5"/>
<rect class="n" x="635" y="360" width="6" height="2.5"/>
<rect class="n" x="628" y="367" width="4" height="2.5"/>
<rect class="w" x="662" y="355" width="8" height="13"/>
<rect class="w" x="662" y="370" width="8" height="13"/>
<rect class="st" x="675" y="355" width="4" height="15"/>
<rect class="n" x="700" y="343" width="3" height="2"/>
<rect class="y" x="714" y="343" width="9" height="2.5"/>
<rect class="n" x="719" y="355" width="3" height="2"/>
<rect class="y" x="725" y="353" width="9" height="3"/>
<rect class="y" x="734" y="361" width="14" height="5"/>
<circle class="cw" cx="709" cy="375" r="6"/>
<rect class="y" x="702" y="374" width="13" height="2"/>
</g>

<g id="node-R4">
<rect class="l" x="535" y="388" width="8" height="1"/>
<rect class="pk" x="535" y="405" width="9" height="4"/>
<rect class="pk" x="535" y="412" width="9" height="3"/>
<rect class="l" x="538" y="399" width="5" height="1.2"/>
<rect class="y" x="545" y="398" width="5" height="3"/>
<rect class="n" x="552" y="401" width="6" height="2.5"/>
<rect class="n" x="585" y="401" width="5" height="2.5"/>
<rect class="n" x="585" y="405" width="5" height="2.5"/>
<rect class="n" x="585" y="409" width="5" height="2.5"/>
<rect class="y" x="654" y="388" width="7" height="5"/>
<rect class="n" x="615" y="395" width="7" height="4"/>
<rect class="n" x="627" y="395" width="4" height="2.5"/>
<rect class="n" x="633" y="395" width="8" height="2.5"/>
<rect class="n" x="627" y="403" width="4" height="2.5"/>
<rect class="n" x="640" y="403" width="10" height="2.5"/>
<rect class="n" x="652" y="402" width="3" height="4"/>
<rect class="n" x="657" y="400" width="4" height="2.5"/>
<rect class="n" x="627" y="412" width="4" height="2.5"/>
<rect class="n" x="633" y="413" width="6" height="2.5"/>
<rect class="w" x="662" y="407" width="8" height="13"/>
<rect class="w" x="662" y="422" width="8" height="14"/>
<rect class="st" x="675" y="405" width="4" height="15"/>
</g>

<g id="node-merge">
<rect x="736" y="400" width="5" height="9" fill="#6d6874" stroke="#3a3540" stroke-width=".6"/>
<rect class="w" x="737" y="413" width="8" height="14"/>
<rect class="nw" x="759" y="414" width="4" height="4"/>
</g>

<g id="node-R5">
<rect class="l" x="535" y="445" width="8" height="1"/>
<rect class="pk" x="535" y="463" width="9" height="13"/>
<rect class="pk" x="545" y="463" width="9" height="13"/>
<rect class="l" x="538" y="457" width="5" height="1.2"/>
<rect class="y" x="545" y="455" width="5" height="3"/>
<rect class="n" x="552" y="458" width="6" height="2.5"/>
<rect class="n" x="585" y="458" width="5" height="2.5"/>
<rect class="n" x="585" y="462" width="5" height="2.5"/>
<rect class="n" x="585" y="466" width="5" height="2.5"/>
<circle class="cw" cx="667" cy="449" r="6"/>
<rect class="y" x="660" y="448" width="13" height="2"/>
<rect class="y" x="653" y="446" width="6" height="3"/>
<rect class="n" x="615" y="452" width="7" height="4"/>
<rect class="n" x="627" y="452" width="4" height="2.5"/>
<rect class="n" x="633" y="451" width="8" height="2.5"/>
<rect class="n" x="627" y="460" width="4" height="2.5"/>
<rect class="n" x="640" y="460" width="10" height="2.5"/>
<rect class="n" x="652" y="459" width="3" height="4"/>
<rect class="n" x="657" y="457" width="4" height="2.5"/>
<rect class="n" x="627" y="469" width="4" height="2.5"/>
<rect class="n" x="634" y="469" width="6" height="2.5"/>
<rect class="w" x="662" y="464" width="8" height="14"/>
<rect class="w" x="662" y="480" width="8" height="13"/>
<rect class="st" x="674" y="463" width="4" height="15"/>
<rect class="n" x="700" y="453" width="3" height="2"/>
<rect class="y" x="714" y="453" width="9" height="2.5"/>
<rect class="n" x="719" y="465" width="3" height="2"/>
<rect class="y" x="725" y="463" width="9" height="3"/>
<rect class="y" x="734" y="471" width="14" height="5"/>
</g>

<g id="node-R6">
<rect class="l" x="535" y="502" width="8" height="1"/>
<rect class="pk" x="535" y="519" width="9" height="15"/>
<rect class="pk" x="545" y="519" width="9" height="15"/>
<rect class="l" x="538" y="513" width="5" height="1.2"/>
<rect class="y" x="545" y="512" width="5" height="3"/>
<rect class="n" x="552" y="514" width="6" height="2.5"/>
<rect class="n" x="585" y="515" width="5" height="2.5"/>
<rect class="n" x="585" y="519" width="5" height="2.5"/>
<rect class="n" x="585" y="523" width="5" height="2.5"/>
<rect class="y" x="645" y="502" width="8" height="6"/>
<circle class="cw" cx="667" cy="506" r="6"/>
<rect class="y" x="660" y="505" width="13" height="2"/>
<rect class="n" x="615" y="508" width="7" height="4"/>
<rect class="n" x="627" y="508" width="4" height="2.5"/>
<rect class="n" x="627" y="518" width="4" height="2.5"/>
<rect class="n" x="640" y="518" width="10" height="2.5"/>
<rect class="n" x="652" y="517" width="3" height="4"/>
<rect class="n" x="657" y="515" width="4" height="2.5"/>
<rect class="n" x="627" y="527" width="4" height="2.5"/>
<rect class="n" x="634" y="527" width="6" height="2.5"/>
<rect class="w" x="662" y="522" width="8" height="14"/>
<rect class="w" x="662" y="537" width="8" height="13"/>
<rect class="st" x="674" y="520" width="4" height="15"/>
<rect class="n" x="702" y="509" width="4" height="2"/>
<rect class="y" x="713" y="508" width="9" height="3"/>
<rect class="l" x="703" y="520" width="6" height="1"/>
<rect class="n" x="710" y="520" width="3" height="2"/>
<rect class="y" x="725" y="519" width="9" height="3"/>
<rect class="l" x="713" y="530" width="6" height="1"/>
<rect class="n" x="727" y="529" width="3" height="2"/>
<rect class="y" x="734" y="528" width="14" height="27"/>
<rect class="n" x="693" y="527" width="5" height="2.5"/>
</g>

<g id="node-R7">
<rect class="l" x="535" y="562" width="8" height="1"/>
<rect class="pk" x="536" y="580" width="10" height="25"/>
<rect class="pk" x="547" y="580" width="9" height="25"/>
<rect class="l" x="538" y="574" width="5" height="1.2"/>
<rect class="y" x="547" y="572" width="5" height="3"/>
<rect class="n" x="553" y="575" width="6" height="2.5"/>
<rect class="n" x="585" y="577" width="5" height="2.5"/>
<rect class="n" x="585" y="581" width="5" height="2.5"/>
<rect class="n" x="585" y="585" width="5" height="2.5"/>
<rect class="y" x="641" y="563" width="7" height="4"/>
<circle class="cw" cx="667" cy="567" r="6"/>
<rect class="y" x="660" y="566" width="13" height="2"/>
<rect class="n" x="615" y="570" width="7" height="4"/>
<rect class="n" x="627" y="570" width="4" height="2.5"/>
<rect class="n" x="627" y="578" width="4" height="2.5"/>
<rect class="n" x="640" y="578" width="10" height="2.5"/>
<rect class="n" x="652" y="577" width="3" height="4"/>
<rect class="n" x="657" y="575" width="4" height="2.5"/>
<rect class="n" x="627" y="587" width="4" height="2.5"/>
<rect class="n" x="634" y="587" width="6" height="2.5"/>
<rect class="w" x="662" y="582" width="8" height="15"/>
<rect class="w" x="662" y="598" width="8" height="13"/>
<rect class="st" x="674" y="580" width="4" height="15"/>
</g>
</svg>
